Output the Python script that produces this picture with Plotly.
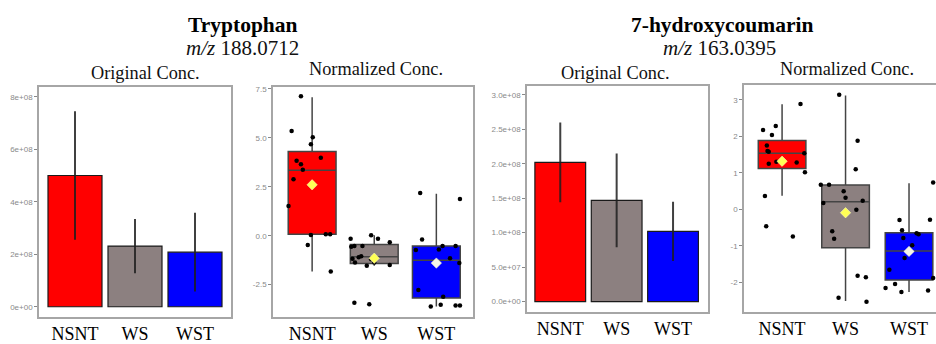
import plotly.graph_objects as go

W, H = 936, 344

groups = ["NSNT", "WS", "WST"]
fill_colors = ["#FF0000", "#8C8080", "#0000FF"]
mean_colors = ["#FFFF55", "#FFFF55", "#F4F4E8"]

# Tryptophan, original concentration (bar = mean, error = sd)
trp_orig_mean = [5.0e8, 2.31e8, 2.08e8]
trp_orig_err = [2.45e8, 1.03e8, 1.50e8]
trp_orig_ticks = [0, 2e8, 4e8, 6e8, 8e8]
trp_orig_ticktext = ["0e+00", "2e+08", "4e+08", "6e+08", "8e+08"]

# Tryptophan, normalized concentration (box stats)
trp_norm_q1 = [0.07, -1.42, -3.18]
trp_norm_median = [3.35, -1.08, -1.25]
trp_norm_q3 = [4.30, -0.45, -0.53]
trp_norm_lower = [-1.83, -1.53, -3.62]
trp_norm_upper = [7.08, 0.02, 2.15]
trp_norm_mean = [2.60, -1.15, -1.40]
trp_norm_points = [
    [7.12, 5.35, 5.03, 4.67, 3.98, 3.83, 3.65, 3.37, 2.88, 1.52, 0.03, 0.07, 0.07, -0.48, -1.83],
    [-0.15, 0.02, -0.15, -0.33, -0.57, -0.53, -0.53, -1.10, -1.05, -1.18, -1.37, -1.53, -1.37, -1.50, -1.20, -3.43, -3.50],
    [2.18, 1.87, -0.20, -0.73, -0.53, -0.53, -0.70, -1.15, -1.40, -2.78, -3.12, -3.62, -3.53, -3.57, -3.57],
]
trp_norm_jitter = [
    [-0.18, -0.33, 0.01, -0.02, 0.14, -0.25, -0.18, -0.15, -0.30, -0.38, -0.02, 0.22, 0.29, -0.07, 0.30],
    [-0.38, -0.05, 0.06, 0.25, -0.37, -0.32, -0.19, -0.25, -0.21, -0.35, -0.31, -0.12, 0.0, 0.25, -0.05, -0.32, -0.08],
    [-0.26, 0.38, -0.23, -0.33, 0.10, 0.31, 0.04, 0.22, 0.37, -0.29, 0.11, -0.09, 0.07, 0.31, 0.38],
]
trp_norm_ticks = [-2.5, 0.0, 2.5, 5.0, 7.5]
trp_norm_ticktext = ["-2.5", "0.0", "2.5", "5.0", "7.5"]

# 7-hydroxycoumarin, original concentration
hc_orig_mean = [2.02e8, 1.47e8, 1.02e8]
hc_orig_err = [0.58e8, 0.68e8, 0.43e8]
hc_orig_ticks = [0, 5e7, 1e8, 1.5e8, 2e8, 2.5e8, 3e8]
hc_orig_ticktext = ["0.0e+00", "5.0e+07", "1.0e+08", "1.5e+08", "2.0e+08", "2.5e+08", "3.0e+08"]

# 7-hydroxycoumarin, normalized concentration
hc_norm_q1 = [1.12, -1.05, -1.93]
hc_norm_median = [1.54, 0.21, -1.14]
hc_norm_q3 = [1.89, 0.67, -0.64]
hc_norm_lower = [0.375, -2.51, -2.26]
hc_norm_upper = [2.88, 3.12, 0.72]
hc_norm_mean = [1.32, -0.09, -1.15]
hc_norm_points = [
    [2.18, 2.29, 2.04, 2.89, 1.75, 1.60, 1.58, 1.54, 1.31, 1.25, 1.29, 1.02, 0.37, -0.46, -0.74],
    [3.14, 1.88, 1.10, 0.68, 0.68, 0.50, 0.32, 0.18, 0.24, -0.01, -0.60, -0.80, -1.82, -1.86, -2.42, -2.53],
    [0.74, -0.28, -0.29, -0.57, -0.78, -0.65, -0.68, -0.98, -1.33, -1.65, -1.88, -2.15, -2.04, -2.26, -2.22],
]
hc_norm_jitter = [
    [-0.30, -0.10, -0.16, 0.29, -0.24, -0.23, -0.21, 0.35, -0.09, -0.21, 0.23, 0.36, -0.27, -0.25, 0.17],
    [-0.10, 0.19, 0.16, -0.39, -0.26, -0.03, 0.0, -0.35, 0.27, 0.17, -0.21, -0.18, 0.19, 0.32, -0.11, 0.33],
    [0.38, 0.33, -0.15, -0.11, -0.09, 0.12, 0.15, 0.05, -0.07, -0.31, 0.38, -0.37, -0.22, -0.12, 0.30],
]
hc_norm_ticks = [-2, -1, 0, 1, 2, 3]
hc_norm_ticktext = ["-2", "-1", "0", "1", "2", "3"]

titles = ["Tryptophan", "7-hydroxycoumarin"]
mz_values = ["188.0712", "163.0395"]
subtitles = ["Original Conc.", "Normalized Conc.", "Original Conc.", "Normalized Conc."]

SERIF = "Liberation Serif, Times New Roman, serif"
SANS = "Liberation Sans, Arial, sans-serif"
xpos = [1, 2, 3]

fig = go.Figure()


def px_x(a, b):
    return [a / W, b / W]


def px_y(top, bottom):
    return [1 - bottom / H, 1 - top / H]


def add_bars(means, errs, xa, ya):
    fig.add_trace(go.Bar(
        x=xpos, y=means, width=0.9, xaxis=xa, yaxis=ya,
        marker=dict(color=fill_colors, line=dict(color="#1a1a1a", width=1.2)),
        error_y=dict(type="data", array=errs, visible=True, color="rgba(30,30,30,0.85)",
                     thickness=2, width=0),
        showlegend=False,
    ))


def add_boxes(q1, med, q3, lo, hi, mean, pts, jit, xa, ya, width):
    for i in range(3):
        fig.add_trace(go.Box(
            x=[xpos[i]], q1=[q1[i]], median=[med[i]], q3=[q3[i]],
            lowerfence=[lo[i]], upperfence=[hi[i]], width=width,
            fillcolor=fill_colors[i], line=dict(color="#444444", width=1.5),
            whiskerwidth=0, boxpoints=False, xaxis=xa, yaxis=ya, showlegend=False,
        ))
    for i in range(3):
        fig.add_trace(go.Scatter(
            x=[xpos[i] + j for j in jit[i]], y=pts[i], mode="markers",
            marker=dict(color="black", size=4.5), xaxis=xa, yaxis=ya, showlegend=False,
        ))
    fig.add_trace(go.Scatter(
        x=xpos, y=mean, mode="markers",
        marker=dict(symbol="diamond", color=mean_colors, size=8,
                    line=dict(color="#ffffcc", width=0.5)),
        xaxis=xa, yaxis=ya, showlegend=False,
    ))


add_bars(trp_orig_mean, trp_orig_err, "x", "y")
add_boxes(trp_norm_q1, trp_norm_median, trp_norm_q3, trp_norm_lower, trp_norm_upper,
          trp_norm_mean, trp_norm_points, trp_norm_jitter, "x2", "y2", 0.77)
add_bars(hc_orig_mean, hc_orig_err, "x3", "y3")
add_boxes(hc_norm_q1, hc_norm_median, hc_norm_q3, hc_norm_lower, hc_norm_upper,
          hc_norm_mean, hc_norm_points, hc_norm_jitter, "x4", "y4", 0.75)

frame = "#a6a6a6"
xcommon = dict(tickvals=xpos, ticktext=groups, showgrid=False, zeroline=False,
               showline=True, linecolor=frame, linewidth=1.5, ticks="",
               tickfont=dict(family=SERIF, size=18, color="black"), fixedrange=True)
ycommon = dict(showgrid=False, zeroline=False, showline=True, linecolor=frame, linewidth=1.5,
               ticks="outside", ticklen=3, tickcolor="#888888", tickwidth=1,
               tickfont=dict(family=SANS, size=8, color="#8a8a8a"))

panels = [
    dict(xd=px_x(39, 231), yd=px_y(87, 322), xr=[0.4, 3.6], yr=[-0.372e8, 8.372e8],
         tv=trp_orig_ticks, tt=trp_orig_ticktext, mirror=True),
    dict(xd=px_x(273, 473), yd=px_y(87, 322), xr=[0.37, 3.59], yr=[-4.13, 7.6],
         tv=trp_norm_ticks, tt=trp_norm_ticktext, mirror=True),
    dict(xd=px_x(527, 708), yd=px_y(86, 317), xr=[0.41, 3.62], yr=[-0.146e8, 3.129e8],
         tv=hc_orig_ticks, tt=hc_orig_ticktext, mirror=True),
    dict(xd=px_x(744, 936), yd=px_y(85, 317), xr=[0.40, 3.425], yr=[-2.80, 3.41],
         tv=hc_norm_ticks, tt=hc_norm_ticktext, mirror=False),
]

layout = {}
for k, p in enumerate(panels):
    sx = "" if k == 0 else str(k + 1)
    ax = dict(xcommon, domain=p["xd"], range=p["xr"], anchor="y" + sx, mirror=True)
    ay = dict(ycommon, domain=p["yd"], range=p["yr"], anchor="x" + sx,
              tickvals=p["tv"], ticktext=p["tt"], mirror=p["mirror"])
    layout["xaxis" + sx] = ax
    layout["yaxis" + sx] = ay

fig.update_layout(**layout)

annotations = []
title_x = [243, 722]
mz_x = [242, 719]
for t, mz, tx, mx in zip(titles, mz_values, title_x, mz_x):
    annotations.append(dict(text="<b>" + t + "</b>", x=tx / W, y=1 - 24 / H, xref="paper", yref="paper",
                            showarrow=False, xanchor="center", yanchor="middle",
                            font=dict(family=SERIF, size=21.5, color="black")))
    annotations.append(dict(text="<i>m/z</i> " + mz, x=mx / W, y=1 - 47 / H, xref="paper", yref="paper",
                            showarrow=False, xanchor="center", yanchor="middle",
                            font=dict(family=SERIF, size=21, color="#111111")))
sub_x = [145, 376, 615, 847]
sub_y = [73, 69, 73, 69]
for s, sx_, sy_ in zip(subtitles, sub_x, sub_y):
    annotations.append(dict(text=s, x=sx_ / W, y=1 - sy_ / H, xref="paper", yref="paper",
                            showarrow=False, xanchor="center", yanchor="middle",
                            font=dict(family=SERIF, size=18.3, color="#111111")))

fig.update_layout(
    annotations=annotations,
    width=W, height=H, margin=dict(l=0, r=0, t=0, b=0),
    paper_bgcolor="white", plot_bgcolor="white", showlegend=False,
)

fig.write_html("out.html", config={"displayModeBar": False},
               post_script="document.body.style.margin='0';document.body.style.overflow='hidden';")
